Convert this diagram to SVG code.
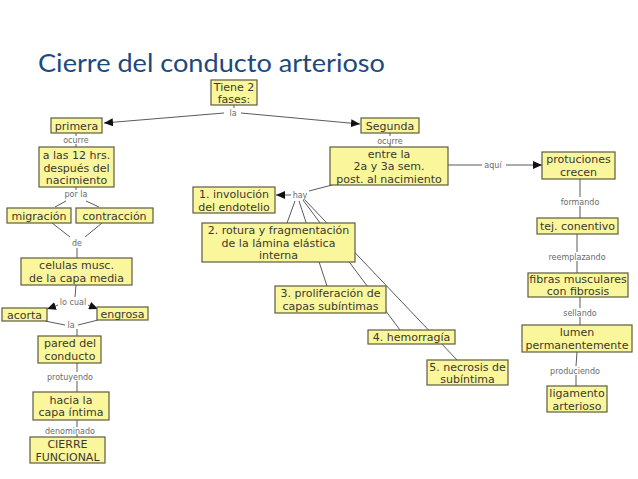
<svg xmlns="http://www.w3.org/2000/svg" width="638" height="479" viewBox="0 0 638 479">
<defs>
<style>
.bx{fill:#faf69c;stroke:#5e5c40;stroke-width:1.2}
.t{font-family:"DejaVu Sans",sans-serif;font-size:11px;fill:#3a392e;text-anchor:middle}
.lb{font-family:"DejaVu Sans",sans-serif;font-size:8px;fill:#6a6a6a;text-anchor:middle}
.c line{stroke:#5a5a5a;stroke-width:1}
.ttl{font-family:Lato,"Open Sans",sans-serif;font-size:25.5px;fill:#1d497d}
</style>
<marker id="ah" markerUnits="userSpaceOnUse" markerWidth="9" markerHeight="8" refX="9" refY="4" orient="auto">
<path d="M0,0 L9,4 L0,8 z" fill="#111"/>
</marker>
</defs>
<rect width="638" height="479" fill="#fff"/>
<text class="ttl" x="38" y="72" textLength="347" lengthAdjust="spacingAndGlyphs">Cierre del conducto arterioso</text>

<g id="connectors" class="c">
<line x1="234" y1="105" x2="234" y2="108"/>
<line x1="224" y1="113" x2="104" y2="123" marker-end="url(#ah)"/>
<line x1="241" y1="113" x2="360" y2="124" marker-end="url(#ah)"/>
<line x1="76" y1="133" x2="76" y2="136"/>
<line x1="76" y1="144" x2="76" y2="147"/>
<line x1="76" y1="187" x2="76" y2="190"/>
<line x1="66" y1="201" x2="55" y2="207"/>
<line x1="86" y1="201" x2="99" y2="207"/>
<line x1="52" y1="223" x2="70" y2="237"/>
<line x1="102" y1="223" x2="85" y2="237"/>
<line x1="77" y1="248" x2="77" y2="258"/>
<line x1="76" y1="285" x2="75" y2="297"/>
<line x1="58" y1="305" x2="47" y2="309" marker-end="url(#ah)"/>
<line x1="88" y1="305" x2="98" y2="309" marker-end="url(#ah)"/>
<line x1="45" y1="321" x2="65" y2="325"/>
<line x1="98" y1="320" x2="78" y2="325"/>
<line x1="77" y1="329" x2="77" y2="336"/>
<line x1="77" y1="363" x2="77" y2="372"/>
<line x1="77" y1="381" x2="77" y2="392"/>
<line x1="77" y1="420" x2="77" y2="427"/>
<line x1="77" y1="434" x2="77" y2="437"/>
<line x1="390" y1="133" x2="390" y2="136"/>
<line x1="390" y1="144" x2="390" y2="147"/>
<line x1="332" y1="185" x2="309" y2="191"/>
<line x1="291" y1="195" x2="276" y2="195" marker-end="url(#ah)"/>
<line x1="295" y1="201" x2="287" y2="223"/>
<line x1="299" y1="201" x2="327" y2="286"/>
<line x1="303" y1="200" x2="400" y2="330"/>
<line x1="305" y1="200" x2="457" y2="360"/>
<line x1="448" y1="165" x2="482" y2="165"/>
<line x1="506" y1="165" x2="542" y2="165" marker-end="url(#ah)"/>
<line x1="580" y1="179" x2="580" y2="197"/>
<line x1="580" y1="206" x2="580" y2="218"/>
<line x1="577" y1="234" x2="577" y2="252"/>
<line x1="577" y1="261" x2="577" y2="273"/>
<line x1="580" y1="297" x2="580" y2="308"/>
<line x1="580" y1="317" x2="580" y2="325"/>
<line x1="577" y1="352" x2="576" y2="366"/>
<line x1="576" y1="375" x2="576" y2="386"/>
</g>

<g id="labels">
<text class="lb" x="233" y="116">la</text>
<text class="lb" x="76" y="143">ocurre</text>
<text class="lb" x="76" y="197">por la</text>
<text class="lb" x="77" y="246">de</text>
<text class="lb" x="73" y="305">lo cual</text>
<text class="lb" x="71" y="328">la</text>
<text class="lb" x="70" y="380">protuyendo</text>
<text class="lb" x="70" y="434">denominado</text>
<text class="lb" x="390" y="144">ocurre</text>
<text class="lb" x="300" y="198">hay</text>
<text class="lb" x="493" y="168">aquí</text>
<text class="lb" x="580" y="205">formando</text>
<text class="lb" x="577" y="260">reemplazando</text>
<text class="lb" x="580" y="316">sellando</text>
<text class="lb" x="575" y="374">produciendo</text>
</g>

<g id="n-tiene"><rect class="bx" x="211" y="80" width="46" height="25"/><text class="t" x="234" y="90.5">Tiene 2</text><text class="t" x="234" y="102.5">fases:</text></g>
<g id="n-primera"><rect class="bx" x="51" y="118" width="51" height="15"/><text class="t" x="76.5" y="129.5">primera</text></g>
<g id="n-12hrs"><rect class="bx" x="39" y="147" width="75" height="40"/><text class="t" x="76.5" y="159">a las 12 hrs.</text><text class="t" x="76.5" y="171.5">después del</text><text class="t" x="76.5" y="184">nacimiento</text></g>
<g id="n-migracion"><rect class="bx" x="7" y="208" width="64" height="15"/><text class="t" x="39" y="219.5">migración</text></g>
<g id="n-contraccion"><rect class="bx" x="76" y="208" width="77" height="15"/><text class="t" x="114.5" y="219.5">contracción</text></g>
<g id="n-celulas"><rect class="bx" x="21" y="258" width="111" height="27"/><text class="t" x="76.5" y="269">celulas musc.</text><text class="t" x="76.5" y="281.5">de la capa media</text></g>
<g id="n-acorta"><rect class="bx" x="2" y="308" width="45" height="13"/><text class="t" x="24.5" y="318.5">acorta</text></g>
<g id="n-engrosa"><rect class="bx" x="97" y="307" width="51" height="13"/><text class="t" x="122.5" y="317.5">engrosa</text></g>
<g id="n-pared"><rect class="bx" x="38" y="336" width="63" height="27"/><text class="t" x="70" y="347">pared del</text><text class="t" x="70" y="359.5">conducto</text></g>
<g id="n-hacia"><rect class="bx" x="33" y="392" width="76" height="28"/><text class="t" x="71" y="403.5">hacia la</text><text class="t" x="71" y="416">capa íntima</text></g>
<g id="n-cierre"><rect class="bx" x="30" y="437" width="75" height="26"/><text class="t" x="67.5" y="448">CIERRE</text><text class="t" x="67.5" y="460.5">FUNCIONAL</text></g>
<g id="n-segunda"><rect class="bx" x="361" y="118" width="58" height="15"/><text class="t" x="390" y="129.5">Segunda</text></g>
<g id="n-entre"><rect class="bx" x="330" y="147" width="118" height="38"/><text class="t" x="389" y="157.5">entre la</text><text class="t" x="389" y="170">2a y 3a sem.</text><text class="t" x="389" y="182.5">post. al nacimiento</text></g>
<g id="n-involucion"><rect class="bx" x="193" y="187" width="82" height="26"/><text class="t" x="234" y="198">1. involución</text><text class="t" x="234" y="210.5">del endotelio</text></g>
<g id="n-rotura"><rect class="bx" x="202" y="223" width="153" height="39"/><text class="t" x="278.5" y="234">2. rotura y fragmentación</text><text class="t" x="278.5" y="246.5">de la lámina elástica</text><text class="t" x="278.5" y="259">interna</text></g>
<g id="n-proliferacion"><rect class="bx" x="275" y="286" width="111" height="27"/><text class="t" x="330.5" y="297">3. proliferación de</text><text class="t" x="330.5" y="309.5">capas subíntimas</text></g>
<g id="n-hemorragia"><rect class="bx" x="368" y="330" width="87" height="14"/><text class="t" x="411.5" y="341">4. hemorragía</text></g>
<g id="n-necrosis"><rect class="bx" x="427" y="360" width="81" height="25"/><text class="t" x="467.5" y="370.5">5. necrosis de</text><text class="t" x="467.5" y="383">subíntima</text></g>
<g id="n-protuciones"><rect class="bx" x="542" y="152" width="73" height="27"/><text class="t" x="578.5" y="163">protuciones</text><text class="t" x="578.5" y="175.5">crecen</text></g>
<g id="n-tej"><rect class="bx" x="537" y="218" width="81" height="16"/><text class="t" x="577.5" y="230">tej. conentivo</text></g>
<g id="n-fibras"><rect class="bx" x="528" y="273" width="100" height="24"/><text class="t" x="578" y="283">fibras musculares</text><text class="t" x="578" y="295">con fibrosis</text></g>
<g id="n-lumen"><rect class="bx" x="522" y="325" width="110" height="27"/><text class="t" x="577" y="336">lumen</text><text class="t" x="577" y="348.5">permanentemente</text></g>
<g id="n-ligamento"><rect class="bx" x="547" y="386" width="60" height="26"/><text class="t" x="577" y="397">ligamento</text><text class="t" x="577" y="409.5">arterioso</text></g>
</svg>
